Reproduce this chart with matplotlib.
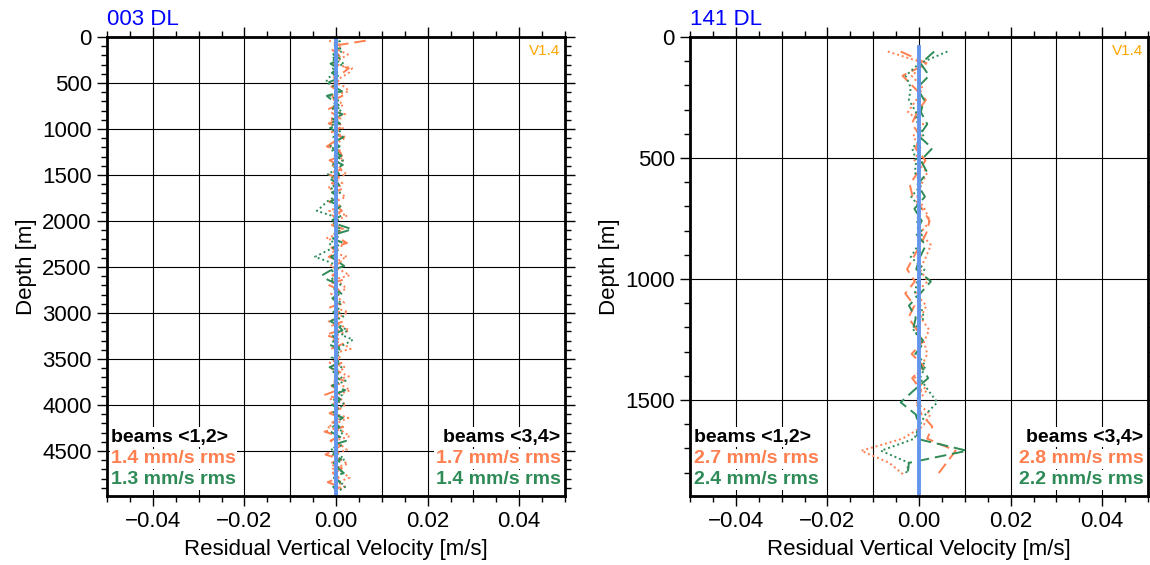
import numpy as np
import matplotlib.pyplot as plt
from matplotlib.ticker import MultipleLocator, FuncFormatter

plt.rcParams['font.family'] = ['Liberation Sans', 'DejaVu Sans']

# ---- data (velocities in mm/s) ----
depth_left = np.arange(40, 4950, 50)
orange_dash_left = [6.5, 0.2, -0.8, 0.5, 1.2, -0.6, 2.8, 1.5, -0.5, 0.8,
                    -1.0, 0.6, 1.4, -0.8, 0.3, -1.9, -0.4, 1.0, -1.6, 0.9,
                    -1.2, 1.5, -0.5, -2.0, 0.7, 1.3, -1.4, 0.4, 1.1, -1.8,
                    0.6, -0.9, 1.7, -0.3, 0.9, -1.5, 0.2, 1.3, -0.7, 0.5,
                    -1.2, 1.8, -0.4, 0.8, 2.4, -1.0, 0.3, -1.6, 1.1, -0.2,
                    0.9, -0.8, 1.5, -1.9, 0.4, 1.0, -0.6, 1.2, -1.3, 0.7,
                    0.2, 1.6, -0.9, 0.5, -2.2, 0.9, 1.3, -1.1, 0.4, -0.3,
                    1.4, -1.7, 0.8, -0.5, 1.9, -1.0, 0.3, -2.4, 1.2, -0.6,
                    0.7, -1.4, 1.0, -0.8, 1.6, -2.5, 0.5, -1.2, 1.1, -0.4,
                    -2.3, 0.9, -1.5, 1.3, -0.7, 0.6, -1.8, 0.8, -0.3]
orange_dot_left = [-1.5, 1.2, 0.4, 2.6, 1.0, -0.8, 3.5, 2.8, 1.1, -0.6,
                   1.9, 2.8, -1.2, 0.5, 1.6, -0.9, 2.0, -1.4, 0.8, 1.5,
                   -0.3, 2.2, 0.6, -1.7, 1.3, 0.2, 1.8, -1.1, 0.9, 2.3,
                   -0.5, 1.4, -1.8, 0.7, 2.1, -0.2, 1.0, -1.5, 2.5, 0.3,
                   -1.0, 1.6, 0.4, -2.1, 1.9, 0.8, -0.7, 2.4, 0.1, -1.3,
                   1.2, 3.0, -0.6, 1.5, 2.2, -1.1, 0.6, 1.8, -0.4, 2.6,
                   0.9, -1.6, 1.3, 2.9, 0.2, -0.9, 1.7, 3.2, -0.5, 1.1,
                   -1.4, 2.0, 0.7, 2.8, -0.8, 1.4, 3.1, 0.3, -1.2, 2.2,
                   1.0, -0.6, 2.7, 0.5, -1.9, 1.6, 3.0, -0.3, 1.2, 2.4,
                   -1.1, 0.8, 2.6, -0.7, 1.5, 3.0, 0.4, 1.9, -0.5]
green_dash_left = [0.5, -0.3, 0.8, -0.6, 1.0, -1.2, 0.4, -0.9, 1.1, -1.5,
                   -0.4, 1.3, -2.0, -0.8, 0.6, -1.1, 1.4, -0.7, 0.9, -1.3,
                   0.3, 1.6, -0.5, 0.8, -1.0, 1.2, -0.6, 1.5, -0.2, 0.7,
                   -1.4, 0.4, 1.1, -0.9, 0.6, -1.2, 1.0, -0.3, 1.3, -0.8,
                   0.5, 3.5, 0.2, -0.7, 1.6, -0.5, 0.9, -1.1, 0.4, 1.8,
                   -1.3, -3.0, -1.8, 0.6, -0.4, 1.2, -0.8, 0.3, 1.0, -0.6,
                   0.8, -1.2, 0.5, 1.4, -0.9, 0.2, -1.6, 0.7, 1.1, -0.4,
                   0.9, -1.4, 0.6, -0.2, 1.3, -0.8, 2.0, -0.5, 1.0, -1.1,
                   0.4, -0.7, 1.5, -0.3, 0.8, -1.2, 0.6, 2.2, -0.9, 0.3,
                   -0.6, 1.1, -0.8, 0.5, 1.7, -0.4, 0.9, -0.6, 0.2]
green_dot_left = [1.0, -0.5, 1.4, 0.6, -1.0, 1.8, -0.7, 0.3, -1.6, -2.2,
                  -0.4, 0.9, -1.3, 0.5, -0.8, 1.2, -0.2, 0.7, -1.1, 0.4,
                  1.0, -0.6, 0.3, -1.4, 0.8, -0.3, 1.5, -0.9, 0.2, -1.8,
                  -0.5, 0.6, -1.2, 0.9, -0.4, -2.0, -3.0, -4.2, -1.1, 0.5,
                  -0.8, 1.1, -0.3, 0.7, -1.5, -0.6, -2.6, -4.6, -1.8, 0.4,
                  -0.9, 0.6, -1.3, 1.0, -0.2, 0.8, -0.7, 1.3, -0.4, 0.5,
                  1.6, -0.5, 0.9, 2.5, 1.2, 3.7, 2.0, -0.3, 0.7, -1.0,
                  0.4, 1.2, -0.6, 0.9, 2.1, -0.8, 0.3, 1.4, -0.5, 1.8,
                  0.6, -0.9, 1.2, 0.4, -0.7, 1.6, 0.8, -0.4, 1.1, -1.2,
                  0.5, 1.9, -0.3, 0.7, 1.5, -0.6, 1.0, 2.0, 0.4]

depth_right = np.arange(60, 1811, 50)
orange_dash_right = [-4.0, 1.8, -3.6, -1.0, 1.5, -0.4, -1.6, 0.5, -0.8, 1.4,
                     -0.3, -2.0, -1.4, 0.7, 2.3, 1.6, 0.3, -1.2, -2.6, -0.9,
                     -3.0, -1.0, -2.3, -0.5, 0.8, -1.6, 1.0, -1.5, 0.5, -0.7,
                     0.6, 2.9, 1.8, 8.0, 6.0, 4.0]
orange_dot_right = [-6.8, 1.5, -1.6, 0.8, -0.6, -2.4, 0.9, -1.3, 0.4, -1.0,
                    1.8, 0.5, -0.4, 1.2, 2.4, 0.3, 2.6, 1.5, 0.2, 1.9,
                    -0.8, 1.6, 0.4, 2.2, 1.1, 1.8, 0.6, -0.9, 1.7, -0.5,
                    2.5, 0.8, -3.6, -12.6, -6.5, -3.3]
green_dash_right = [3.3, 0.4, 2.2, -0.4, 1.1, 0.4, 1.8, 0.0, 2.9, 0.4,
                    1.8, -0.3, 1.3, -1.0, 0.6, -0.8, 1.5, 0.2, -0.6, 2.6,
                    0.3, -2.2, -0.7, -1.3, 1.2, -0.8, 0.5, 2.0, -1.1, -4.0,
                    -0.7, 0.0, -0.6, 10.5, -2.2, -2.5]
green_dot_right = [6.2, 0.0, -2.9, -1.8, -2.2, -0.7, -0.3, 1.0, -1.5, -0.6,
                   -0.9, 0.6, -1.7, 0.4, -0.5, 0.8, -0.2, -1.8, 1.2, -0.4,
                   -0.9, 0.3, 1.1, -1.2, 0.7, -0.3, 1.4, 0.2, 2.0, 4.0,
                   1.4, 0.0, -1.0, -8.3, -2.2, -2.9]

titles = ['003 DL', '141 DL']
depth_max = [4990, 1897]
rms_12 = [('1.4', '1.3'), ('2.7', '2.4')]
rms_34 = [('1.7', '1.4'), ('2.8', '2.2')]

ORANGE = '#FF7F50'
GREEN = '#2E8B57'
BLUE = '#6495ED'

panels = [
    (depth_left, orange_dash_left, orange_dot_left, green_dash_left, green_dot_left),
    (depth_right, orange_dash_right, orange_dot_right, green_dash_right, green_dot_right),
]

fig = plt.figure(figsize=(11.5, 5.65), dpi=100)
lefts = [107 / 1150, 690 / 1150]
xfmt = FuncFormatter(lambda v, pos: ('%.2f' % v).replace('-', '\u2212'))

for i, (dep, od, odt, gd, gdt) in enumerate(panels):
    ax = fig.add_axes([lefts[i], 1 - 496 / 565, 458 / 1150, 459 / 565])
    dash = (0, (6, 3))
    dot = (0, (1, 1.5))
    ax.plot(np.array(odt) / 1000, dep, color=ORANGE, ls=dot, lw=1.4)
    ax.plot(np.array(od) / 1000, dep, color=ORANGE, ls=dash, lw=1.4)
    ax.plot(np.array(gdt) / 1000, dep, color=GREEN, ls=dot, lw=1.4)
    ax.plot(np.array(gd) / 1000, dep, color=GREEN, ls=dash, lw=1.4)
    ax.plot([0, 0], [dep[0] - 20, depth_max[i]], color=BLUE, lw=2.8)

    ax.set_xlim(-0.05, 0.05)
    ax.set_ylim(depth_max[i], 0)
    ax.xaxis.set_major_locator(MultipleLocator(0.02))
    ax.xaxis.set_minor_locator(MultipleLocator(0.005))
    ax.xaxis.set_major_formatter(xfmt)
    ax.yaxis.set_major_locator(MultipleLocator(500))
    ax.yaxis.set_minor_locator(MultipleLocator(100))

    # grid every 0.01 in x and 500 in depth
    for gx in np.arange(-0.04, 0.041, 0.01):
        ax.axvline(gx, color='black', lw=0.8, zorder=0)
    for gy in np.arange(500, depth_max[i], 500):
        ax.axhline(gy, color='black', lw=0.8, zorder=0)

    ax.tick_params(which='both', direction='out', top=True, right=True,
                   labeltop=False, labelright=False, width=1.0, labelsize=16)
    ax.tick_params(which='major', length=7, pad=4)
    ax.tick_params(which='minor', length=4)
    for sp in ax.spines.values():
        sp.set_linewidth(2.0)

    ax.set_xlabel('Residual Vertical Velocity [m/s]', fontsize=16, labelpad=5)
    ax.set_ylabel('Depth [m]', fontsize=16, labelpad=4)
    ax.text(0.0, 1.015, titles[i], transform=ax.transAxes, color='blue',
            fontsize=16, ha='left', va='bottom')
    ax.text(0.99, 0.985, 'V1.4', transform=ax.transAxes, color='orange',
            fontsize=11, ha='right', va='top')

    ys = [0.128, 0.081, 0.035]
    x_l, x_r = 0.009, 0.99
    fs = 14
    box = dict(facecolor='white', edgecolor='none', pad=1.0)
    rows_l = [('beams <1,2>', 'black'),
              (rms_12[i][0] + ' mm/s rms', ORANGE),
              (rms_12[i][1] + ' mm/s rms', GREEN)]
    rows_r = [('beams <3,4>', 'black'),
              (rms_34[i][0] + ' mm/s rms', ORANGE),
              (rms_34[i][1] + ' mm/s rms', GREEN)]
    for y, (txt, col) in zip(ys, rows_l):
        ax.text(x_l, y, txt, transform=ax.transAxes, fontsize=fs, fontweight='bold',
                color=col, va='center', ha='left', bbox=box, zorder=5)
    for y, (txt, col) in zip(ys, rows_r):
        ax.text(x_r, y, txt, transform=ax.transAxes, fontsize=fs, fontweight='bold',
                color=col, va='center', ha='right', bbox=box, zorder=5)

fig.savefig('out.png', dpi=100)
